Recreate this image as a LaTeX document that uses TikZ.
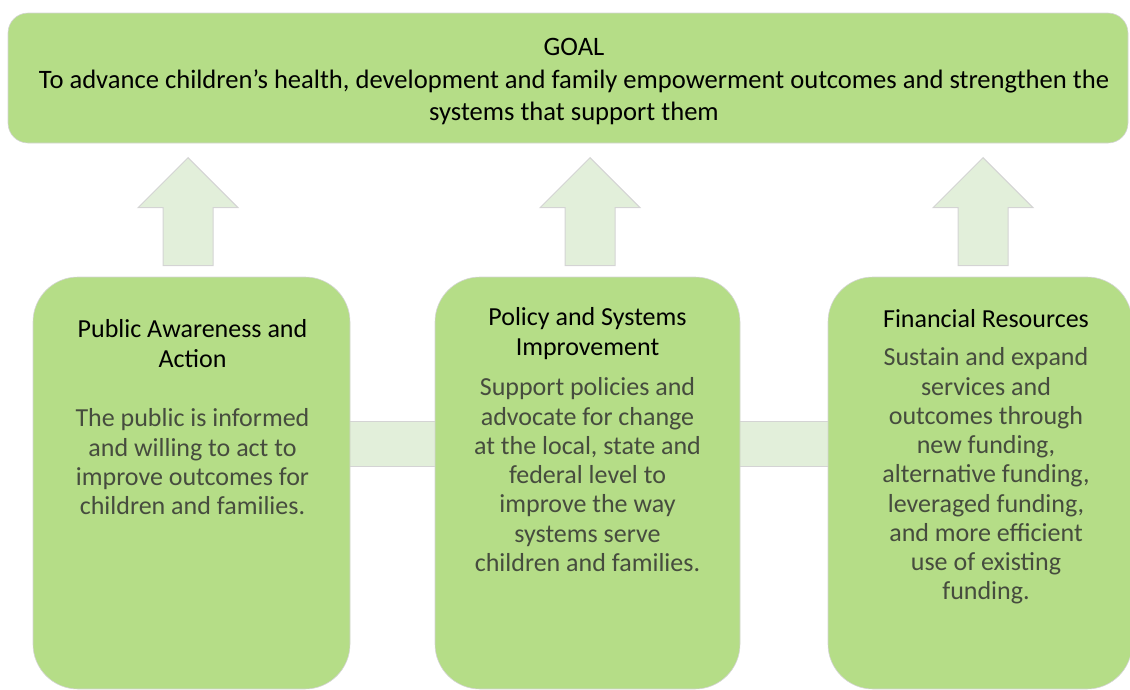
\documentclass[tikz,border=0pt]{standalone}
\usepackage{fontspec}
\setmainfont{Carlito}
\usetikzlibrary{
  positioning,
  calc,
  backgrounds
}
\usepackage{xcolor}
\definecolor{boxGreen}{RGB}{181,221,135}
\definecolor{paleGreen}{RGB}{226,239,218}
\definecolor{edgeGray}{RGB}{212,212,212}
\definecolor{bodyGray}{RGB}{70,76,62}
\tikzset{
  goalbox/.style={
    fill=boxGreen,
    draw=edgeGray,
    line width=0.6pt,
    rounded corners=20pt,
    minimum width=1120pt,
    minimum height=130pt,
    inner sep=0pt
  },
  goaltext/.style={
    inner sep=0pt,
    align=center,
    font=\fontsize{26.6}{32.5}\selectfont
  },
  areabox/.style={
    fill=boxGreen,
    draw=edgeGray,
    line width=0.6pt,
    rounded corners=45pt,
    minimum height=412pt,
    inner sep=0pt
  },
  areatitle/.style={
    anchor=north,
    inner sep=0pt,
    align=center,
    font=\fontsize{26}{30}\selectfont
  },
  areabody/.style={
    anchor=north,
    inner sep=0pt,
    align=center,
    text=bodyGray,
    font=\fontsize{26}{29.25}\selectfont
  },
  uparrow/.style={
    fill=paleGreen,
    draw=edgeGray,
    line width=1pt
  },
  band/.style={
    fill=paleGreen,
    draw=edgeGray,
    line width=1pt
  }
}

\begin{document}
\begin{tikzpicture}[x=1pt, y=-1pt]
    \useasboundingbox (0,0) rectangle (1130,689);

    \node[goalbox] (goal) at (568,78) {};
    \node[goaltext] (goalline) at ($(goal.center)+(6,4)$)
    {GOAL\\To advance children’s health, development and family empowerment outcomes and strengthen the\\systems that support them};

    \node[areabox, minimum width=317pt] (pub) at (191.5,483) {};
    \node[areabox, minimum width=305pt] (pol) at (587.5,483) {};
    \node[areabox, minimum width=304pt] (fin) at (980,483) {};

    \node[areatitle] (pubtitle) at ($(pub.north)+(1,43)$)
    {Public Awareness and\\Action};
    \node[areabody] (pubbody) at ($(pub.north)+(1,132)$)
    {The public is informed\\and willing to act to\\improve outcomes for\\children and families.};

    \node[areatitle] (poltitle) at ($(pol.north)+(0,31)$)
    {Policy and Systems\\Improvement};
    \node[areabody] (polbody) at ($(pol.north)+(0,101)$)
    {Support policies and\\advocate for change\\at the local, state and\\federal level to\\improve the way\\systems serve\\children and families.};

    \node[areatitle] (fintitle) at ($(fin.north)+(6,33)$)
    {Financial Resources};
    \node[areabody] (finbody) at ($(fin.north)+(6,71)$)
    {Sustain and expand\\services and\\outcomes through\\new funding,\\alternative funding,\\leveraged funding,\\and more efficient\\use of existing\\funding.};

    % band joining the three boxes
    \begin{scope}[on background layer]
      \draw[band]
      ($(pub.north east)+(-20,145)$) rectangle
      ($(fin.north west)+(20,190)$);
    \end{scope}

    % block arrows up to the goal
    \foreach \b/\dx in {pub/-3.5,pol/2.5,fin/3}{
      \draw[uparrow]
      ($(\b.north)+(\dx-25,-11)$)
      -- ++(0,-58) -- ++(-25,0) -- ++(50,-50)
      -- ++(50,50) -- ++(-25,0) -- ++(0,58) -- cycle;
    }
\end{tikzpicture}
\end{document}
